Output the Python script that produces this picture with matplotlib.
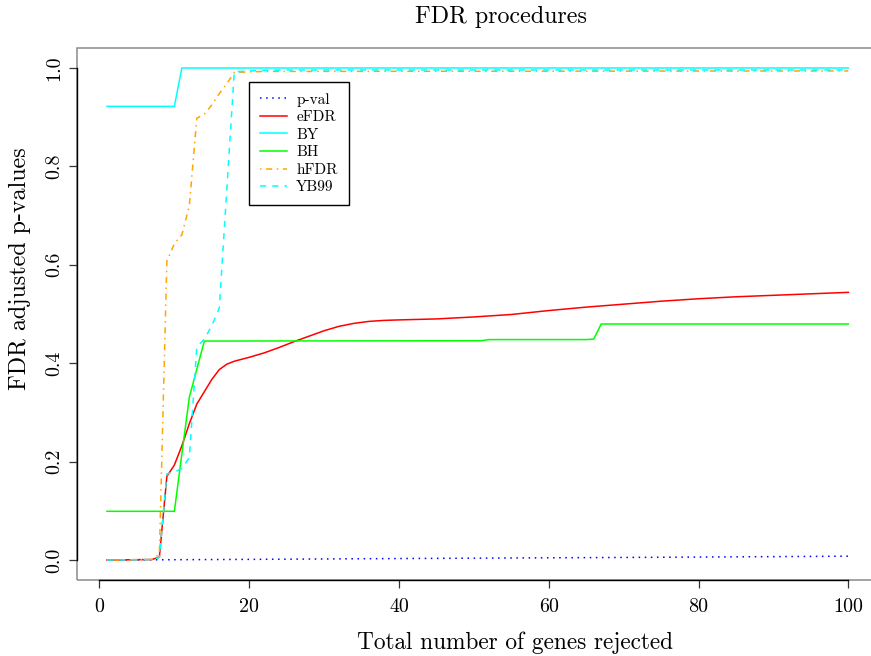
import matplotlib
matplotlib.use('Agg')
import matplotlib.pyplot as plt
from matplotlib.patches import Rectangle

plt.rcParams['font.family'] = ['cmr10', 'DejaVu Serif']
plt.rcParams['axes.formatter.use_mathtext'] = True

# ---------------- data ----------------
x_pval = [1, 8, 20, 40, 60, 80, 100]
y_pval = [0.0002, 0.0005, 0.0013, 0.003, 0.0045, 0.006, 0.0078]

x_efdr = [1, 7, 8, 9, 10, 11, 12, 13, 14, 15, 16, 17, 18, 20, 22, 24, 26, 28, 30,
          32, 34, 36, 38, 40, 45, 50, 55, 60, 65, 70, 75, 80, 85, 90, 95, 100]
y_efdr = [0.0, 0.001, 0.006, 0.170, 0.193, 0.232, 0.277, 0.317, 0.342, 0.367, 0.387,
          0.398, 0.404, 0.412, 0.421, 0.432, 0.444, 0.455, 0.466, 0.475, 0.481, 0.485,
          0.487, 0.488, 0.490, 0.494, 0.499, 0.507, 0.514, 0.520, 0.526, 0.531, 0.535,
          0.538, 0.541, 0.544]

x_by = [1, 10, 11, 100]
y_by = [0.922, 0.922, 1.0, 1.0]

x_bh = [1, 10, 12, 14, 51, 52, 65, 66, 67, 100]
y_bh = [0.099, 0.099, 0.331, 0.445, 0.4457, 0.448, 0.448, 0.449, 0.4797, 0.4797]

x_hfdr = [1, 7, 8, 9, 10, 11, 12, 13, 14, 15, 16, 17, 18, 20, 22, 100]
y_hfdr = [0.0, 0.001, 0.012, 0.607, 0.643, 0.661, 0.72, 0.898, 0.906, 0.925, 0.948,
          0.968, 0.991, 0.992, 0.993, 0.994]

x_yb99 = [1, 7, 8, 9, 10, 11, 12, 13, 14, 15, 16, 18, 20, 22, 25, 100]
y_yb99 = [0.0, 0.001, 0.005, 0.175, 0.179, 0.186, 0.208, 0.433, 0.449, 0.476, 0.512,
          0.992, 0.994, 0.995, 0.996, 0.996]

labels = ['p-val', 'eFDR', 'BY', 'BH', 'hFDR', 'YB99']
colors = ['#0000FF', '#FF0000', '#00FFFF', '#00FF00', '#FFA500', '#00FFFF']
styles = [(0, (1, 3)), '-', '-', '-', (0, (1, 3, 4, 3)), (0, (4, 4))]

x_ticks = [0, 20, 40, 60, 80, 100]
x_tick_labels = ['0', '20', '40', '60', '80', '100']
y_ticks = [0.0, 0.2, 0.4, 0.6, 0.8, 1.0]
y_tick_labels = ['0.0', '0.2', '0.4', '0.6', '0.8', '1.0']

title = 'FDR procedures'
xlabel = 'Total number of genes rejected'
ylabel = 'FDR adjusted p-values'

# ---------------- figure ----------------
W, H = 871, 656
fig = plt.figure(figsize=(W / 100, H / 100), dpi=100)
left, right, top, bottom = 77.3, 878.0, 48.3, 579.7
ax = fig.add_axes([left / W, 1 - bottom / H, (right - left) / W, (bottom - top) / H])

series = [(x_pval, y_pval), (x_efdr, y_efdr), (x_by, y_by), (x_bh, y_bh),
          (x_hfdr, y_hfdr), (x_yb99, y_yb99)]
handles = []
for (xs, ys), lab, col, ls in zip(series, labels, colors, styles):
    h, = ax.plot(xs, ys, color=col, linestyle=ls, linewidth=1.1, label=lab,
                 dash_capstyle='butt', solid_joinstyle='miter')
    handles.append(h)

ax.set_xlim(-2.96, 103.96)
ax.set_ylim(-0.04, 1.04)

# box + axis lines, R style
for s in ['top', 'right']:
    ax.spines[s].set_visible(False)
ax.add_patch(Rectangle((0, 0), 1, 1, transform=ax.transAxes, fill=False,
                       edgecolor='#8a8a8a', linewidth=1.1, clip_on=False, zorder=0.5))
ax.spines['left'].set_bounds(0, 1)
ax.spines['bottom'].set_bounds(0, 100)
for s in ['left', 'bottom']:
    ax.spines[s].set_color('black')
    ax.spines[s].set_linewidth(1.0)

ax.set_xticks(x_ticks)
ax.set_xticklabels(x_tick_labels)
ax.set_yticks(y_ticks)
ax.set_yticklabels(y_tick_labels, rotation=90, va='center')
ax.tick_params(axis='both', direction='out', length=5.8, width=0.9, color='#333333',
               labelsize=14.4)
ax.tick_params(axis='x', pad=7.5)
ax.tick_params(axis='y', pad=4.5)

fig.text(501 / W, 1 - 23 / H, title, ha='center', va='baseline', fontsize=17.3)
fig.text(515 / W, 1 - 649 / H, xlabel, ha='center', va='baseline', fontsize=16.8)
fig.text(19.5 / W, 1 - 269 / H, ylabel, ha='center', va='center', rotation=90,
         fontsize=17.3)

leg = ax.legend(handles, labels, loc='upper left',
                bbox_to_anchor=(249 / W, 1 - 82 / H), bbox_transform=fig.transFigure,
                borderaxespad=0, fancybox=False, framealpha=1, edgecolor='black',
                fontsize=11, handlelength=1.75, handletextpad=0.62,
                labelspacing=0.25, borderpad=0.72)
leg.get_frame().set_linewidth(1.0)

fig.savefig('out.png', dpi=100)
